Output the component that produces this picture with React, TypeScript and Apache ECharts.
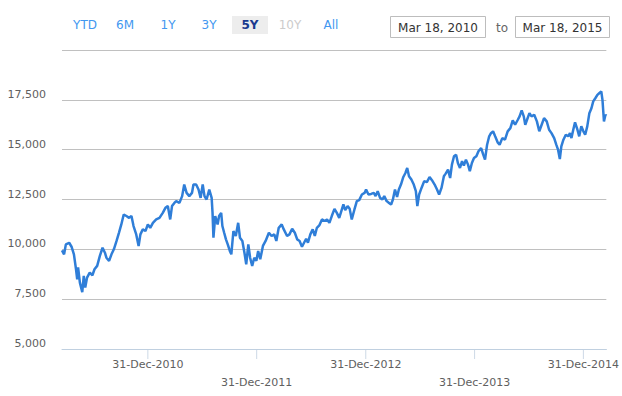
import React, { useEffect, useRef } from "react";
import * as echarts from "echarts";

// ---------- data ----------
const points2010: [string, number][] = [
  ["2010-03-18", 9950], ["2010-03-25", 9750], ["2010-03-31", 10250], ["2010-04-11", 10330],
  ["2010-04-19", 10130], ["2010-04-27", 9750], ["2010-05-04", 9000], ["2010-05-08", 8500],
  ["2010-05-11", 9100], ["2010-05-17", 8330], ["2010-05-25", 7850], ["2010-05-30", 8670],
  ["2010-06-04", 8080], ["2010-06-10", 8580], ["2010-06-19", 8830], ["2010-06-28", 8700],
  ["2010-07-05", 9000], ["2010-07-14", 9170], ["2010-07-23", 9670], ["2010-08-01", 10080],
  ["2010-08-09", 9830], ["2010-08-14", 9580], ["2010-08-23", 9420], ["2010-08-31", 9750],
  ["2010-09-08", 10000], ["2010-09-17", 10420], ["2010-09-25", 10830], ["2010-10-03", 11250],
  ["2010-10-11", 11750], ["2010-10-20", 11670], ["2010-10-29", 11580], ["2010-11-06", 11670],
  ["2010-11-13", 11170], ["2010-11-22", 10750], ["2010-11-30", 10170], ["2010-12-06", 10750],
  ["2010-12-14", 11000], ["2010-12-23", 10920], ["2010-12-31", 11250],
];
const points2011: [string, number][] = [
  ["2011-01-08", 11080], ["2011-01-17", 11330], ["2011-01-28", 11500], ["2011-02-08", 11580],
  ["2011-02-19", 11830], ["2011-02-28", 12080], ["2011-03-08", 12170], ["2011-03-16", 11500],
  ["2011-03-22", 12170], ["2011-03-30", 12330], ["2011-04-05", 12420], ["2011-04-16", 12330],
  ["2011-04-25", 12670], ["2011-05-02", 13250], ["2011-05-10", 12830], ["2011-05-19", 12670],
  ["2011-05-28", 12830], ["2011-06-02", 13250], ["2011-06-11", 13250], ["2011-06-19", 13000],
  ["2011-06-26", 12580], ["2011-07-03", 13250], ["2011-07-09", 12670], ["2011-07-16", 12500],
  ["2011-07-25", 13000], ["2011-08-02", 12580], ["2011-08-05", 11830], ["2011-08-08", 10580],
  ["2011-08-14", 11670], ["2011-08-22", 11250], ["2011-08-27", 11670], ["2011-09-03", 11830],
  ["2011-09-07", 11170], ["2011-09-13", 10830], ["2011-09-19", 10500], ["2011-09-25", 10250],
  ["2011-10-02", 9920], ["2011-10-07", 9750], ["2011-10-14", 10920], ["2011-10-22", 10670],
  ["2011-10-30", 11330], ["2011-11-05", 10580], ["2011-11-13", 10420], ["2011-11-20", 9830],
  ["2011-11-26", 9250], ["2011-12-03", 10250], ["2011-12-09", 9580], ["2011-12-16", 9170],
  ["2011-12-23", 9580], ["2011-12-30", 9420],
];
const points2012: [string, number][] = [
  ["2012-01-05", 9920], ["2012-01-12", 9500], ["2012-01-21", 10170], ["2012-01-30", 10420],
  ["2012-02-10", 10830], ["2012-02-19", 10670], ["2012-02-28", 10750], ["2012-03-06", 10420],
  ["2012-03-14", 11080], ["2012-03-24", 11250], ["2012-03-31", 11000], ["2012-04-11", 10670],
  ["2012-04-19", 10750], ["2012-04-28", 11030], ["2012-05-07", 10830], ["2012-05-15", 10500],
  ["2012-05-23", 10420], ["2012-05-31", 10130], ["2012-06-07", 10330], ["2012-06-14", 10530],
  ["2012-06-20", 10330], ["2012-06-28", 10750], ["2012-07-06", 11000], ["2012-07-13", 10670],
  ["2012-07-20", 11080], ["2012-07-28", 11200], ["2012-08-06", 11500], ["2012-08-15", 11420],
  ["2012-08-23", 11500], ["2012-08-31", 11330], ["2012-09-08", 11670], ["2012-09-17", 12030],
  ["2012-09-25", 11830], ["2012-10-03", 11580], ["2012-10-10", 11920], ["2012-10-17", 12250],
  ["2012-10-23", 11970], ["2012-10-31", 12170], ["2012-11-07", 12030], ["2012-11-14", 11500],
  ["2012-11-23", 12000], ["2012-12-01", 12420], ["2012-12-09", 12470], ["2012-12-18", 12750],
  ["2012-12-27", 12830],
];
const points2013: [string, number][] = [
  ["2013-01-01", 13000], ["2013-01-09", 12750], ["2013-01-18", 12780], ["2013-01-27", 12830],
  ["2013-02-02", 12670], ["2013-02-09", 12920], ["2013-02-17", 12580], ["2013-02-25", 12500],
  ["2013-03-03", 12670], ["2013-03-11", 12420], ["2013-03-19", 12330], ["2013-03-26", 12250],
  ["2013-04-01", 12500], ["2013-04-08", 13000], ["2013-04-15", 12630], ["2013-04-21", 13000],
  ["2013-04-28", 13250], ["2013-05-06", 13630], ["2013-05-13", 13830], ["2013-05-19", 14080],
  ["2013-05-25", 13670], ["2013-06-02", 13500], ["2013-06-10", 13250], ["2013-06-17", 12920],
  ["2013-06-22", 12170], ["2013-06-28", 12750], ["2013-07-06", 13080], ["2013-07-15", 13420],
  ["2013-07-24", 13370], ["2013-08-02", 13630], ["2013-08-10", 13470], ["2013-08-19", 13250],
  ["2013-08-27", 13000], ["2013-09-03", 12750], ["2013-09-11", 13080], ["2013-09-19", 13670],
  ["2013-09-25", 13800], ["2013-10-03", 14000], ["2013-10-10", 13580], ["2013-10-16", 14250],
  ["2013-10-23", 14670], ["2013-10-30", 14750], ["2013-11-05", 14330], ["2013-11-12", 14080],
  ["2013-11-19", 14420], ["2013-11-25", 14200], ["2013-12-02", 14500], ["2013-12-09", 14250],
  ["2013-12-15", 13920], ["2013-12-22", 14330], ["2013-12-29", 14580],
];
const points2014: [string, number][] = [
  ["2014-01-06", 14670], ["2014-01-13", 14920], ["2014-01-22", 15080], ["2014-01-29", 14750],
  ["2014-02-04", 14500], ["2014-02-11", 15250], ["2014-02-18", 15670], ["2014-02-24", 15830],
  ["2014-03-03", 15920], ["2014-03-10", 15670], ["2014-03-19", 15350], ["2014-03-25", 15250],
  ["2014-04-03", 15580], ["2014-04-12", 15500], ["2014-04-21", 15920], ["2014-04-30", 16080],
  ["2014-05-08", 16470], ["2014-05-16", 16250], ["2014-05-25", 16500], ["2014-05-31", 16670],
  ["2014-06-07", 16970], ["2014-06-14", 16670], ["2014-06-19", 16250], ["2014-06-25", 16500],
  ["2014-07-03", 16830], ["2014-07-10", 16670], ["2014-07-19", 16750], ["2014-07-28", 16420],
  ["2014-08-05", 15920], ["2014-08-13", 16250], ["2014-08-21", 16580], ["2014-08-30", 16420],
  ["2014-09-07", 16000], ["2014-09-15", 15830], ["2014-09-24", 15580], ["2014-10-01", 15250],
  ["2014-10-07", 15000], ["2014-10-13", 14530], ["2014-10-18", 15170], ["2014-10-25", 15500],
  ["2014-11-02", 15750], ["2014-11-10", 15670], ["2014-11-16", 15830], ["2014-11-21", 15580],
  ["2014-11-27", 16000], ["2014-12-03", 16370], ["2014-12-11", 16000], ["2014-12-17", 15670],
  ["2014-12-24", 16170], ["2014-12-31", 15920],
];
const points2015: [string, number][] = [
  ["2015-01-06", 15750], ["2015-01-13", 16170], ["2015-01-20", 16830], ["2015-01-27", 17080],
  ["2015-02-02", 17420], ["2015-02-09", 17580], ["2015-02-16", 17750], ["2015-02-22", 17830],
  ["2015-03-01", 17920], ["2015-03-05", 17500], ["2015-03-10", 16420], ["2015-03-15", 16750],
  ["2015-03-18", 16700],
];

const yMin = 5000;
const yMax = 20000;
const yStep = 2500;
const xStart = "2010-03-18";
const xEnd = "2015-03-18";
const xTickDates = ["2010-12-31", "2011-12-31", "2012-12-31", "2013-12-31", "2014-12-31"];
const rangeButtons = ["YTD", "6M", "1Y", "3Y", "5Y", "10Y", "All"];
const selectedButton = "5Y";
const disabledButtons = ["10Y"];
const fromLabel = "Mar 18, 2010";
const toWord = "to";
const toLabel = "Mar 18, 2015";
const monthNames = ["Jan", "Feb", "Mar", "Apr", "May", "Jun", "Jul", "Aug", "Sep", "Oct", "Nov", "Dec"];

// ---------- helpers ----------
const toTime = (s: string) => new Date(s + "T00:00:00").getTime();
const fmtThousands = (v: number) => String(v).replace(/\B(?=(\d{3})+(?!\d))/g, ",");
const fmtDate = (v: number) => {
  const d = new Date(v);
  const dd = String(d.getDate()).padStart(2, "0");
  return `${dd}-${monthNames[d.getMonth()]}-${d.getFullYear()}`;
};

const FONT = "'DejaVu Sans', Verdana, sans-serif";
const AXIS_COLOR = "#c0d0e0";

export default function App() {
  const ref = useRef<HTMLDivElement>(null);

  useEffect(() => {
    if (!ref.current) return;
    const chart = echarts.init(ref.current, undefined, { renderer: "svg" });

    const all = [...points2010, ...points2011, ...points2012, ...points2013, ...points2014, ...points2015];
    const seriesData = all.map(([d, v]) => [toTime(d), v]);
    const tickTimes = xTickDates.map(toTime);
    const labelsRow1 = tickTimes.filter((_, i) => i % 2 === 0);
    const labelsRow2 = tickTimes.filter((_, i) => i % 2 === 1);

    const btnX = [85, 125, 168, 209, 250, 290, 331];
    const graphics: any[] = [];
    rangeButtons.forEach((b, i) => {
      if (b === selectedButton) {
        graphics.push({
          type: "rect",
          shape: { x: btnX[i] - 18, y: 16, width: 36, height: 18 },
          style: { fill: "#ededed" },
          silent: true,
        });
      }
      graphics.push({
        type: "text",
        x: btnX[i],
        y: 25,
        style: {
          text: b,
          fontFamily: FONT,
          fontSize: 12,
          fontWeight: b === selectedButton ? "bold" : "normal",
          fill: b === selectedButton ? "#1a3a8f" : disabledButtons.includes(b) ? "#cccccc" : "#4297f0",
          align: "center",
          verticalAlign: "middle",
        },
        silent: true,
      });
    });
    const boxes = [
      { x: 390.5, w: 95, label: fromLabel },
      { x: 515.5, w: 94, label: toLabel },
    ];
    boxes.forEach((bx) => {
      graphics.push({
        type: "rect",
        shape: { x: bx.x, y: 16.5, width: bx.w, height: 21 },
        style: { fill: "#ffffff", stroke: "#bdbdbd", lineWidth: 1 },
        silent: true,
      });
      graphics.push({
        type: "text",
        x: bx.x + bx.w / 2,
        y: 27.5,
        style: {
          text: bx.label,
          fontFamily: FONT,
          fontSize: 12,
          fill: "#333333",
          align: "center",
          verticalAlign: "middle",
        },
        silent: true,
      });
    });
    graphics.push({
      type: "text",
      x: 502,
      y: 27.5,
      style: { text: toWord, fontFamily: FONT, fontSize: 12, fill: "#666666", align: "center", verticalAlign: "middle" },
      silent: true,
    });

    const baseX = {
      type: "value",
      min: toTime(xStart),
      max: toTime(xEnd),
      splitLine: { show: false },
      gridIndex: 0,
      position: "bottom",
    };

    chart.setOption({
      animation: false,
      backgroundColor: "#ffffff",
      grid: { left: 62, right: 13, top: 50, bottom: 47, containLabel: false },
      graphic: graphics,
      xAxis: [
        {
          ...baseX,
          axisLine: { show: true, lineStyle: { color: AXIS_COLOR, width: 1 } },
          axisTick: { show: false },
          axisLabel: {
            show: true,
            interval: 0,
            customValues: labelsRow1,
            formatter: (v: number) => fmtDate(v),
            color: "#606060",
            fontFamily: FONT,
            fontSize: 11,
            margin: 10,
            hideOverlap: false,
            showMinLabel: true,
            showMaxLabel: true,
          },
        },
        {
          ...baseX,
          axisLine: { show: false },
          axisTick: { show: false },
          axisLabel: {
            show: true,
            interval: 0,
            customValues: labelsRow2,
            formatter: (v: number) => fmtDate(v),
            color: "#606060",
            fontFamily: FONT,
            fontSize: 11,
            margin: 28,
            hideOverlap: false,
            showMinLabel: true,
            showMaxLabel: true,
          },
        },
      ],
      yAxis: {
        type: "value",
        min: yMin,
        max: yMax,
        interval: yStep,
        axisLine: { show: false },
        axisTick: { show: false },
        splitLine: { show: true, lineStyle: { color: "#c0c0c0", width: 1 } },
        axisLabel: {
          formatter: (v: number) => (v === yMax ? "" : fmtThousands(v)),
          color: "#606060",
          fontFamily: FONT,
          fontSize: 11,
          margin: 16,
          verticalAlign: "bottom",
        },
      },
      series: [
        {
          type: "line",
          xAxisIndex: 0,
          data: seriesData,
          showSymbol: false,
          symbol: "none",
          smooth: false,
          lineStyle: { color: "#2f7ed8", width: 2.5 },
          itemStyle: { color: "#2f7ed8" },
          z: 3,
        },
        {
          // axis tick marks at the year-end dates
          type: "scatter",
          xAxisIndex: 0,
          data: tickTimes.map((t) => [t, yMin]),
          symbol: "rect",
          symbolSize: [1, 10],
          symbolOffset: [0, 5],
          itemStyle: { color: AXIS_COLOR },
          clip: false,
          silent: true,
          z: 1,
        },
      ],
    });

    return () => chart.dispose();
  }, []);

  return (
    <div
      ref={ref}
      style={{ position: "fixed", left: 0, top: 0, width: 622, height: 396, background: "#fff" }}
    />
  );
}
